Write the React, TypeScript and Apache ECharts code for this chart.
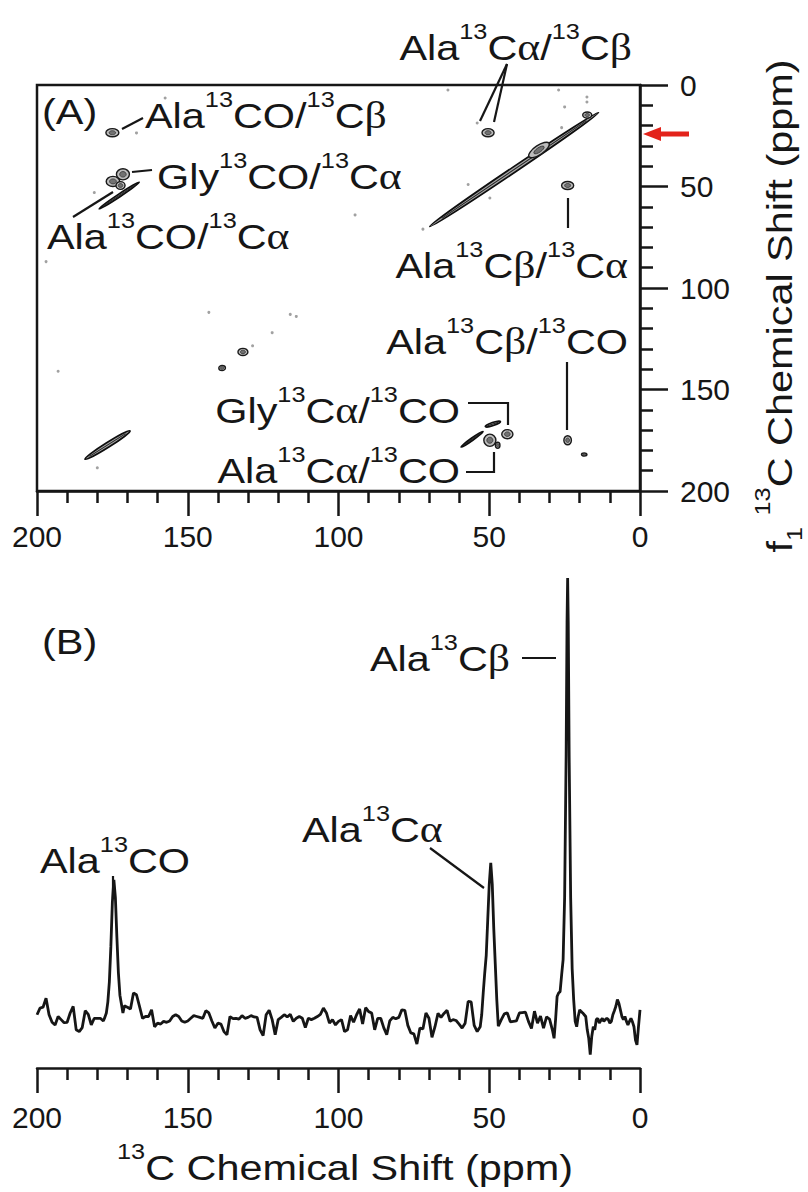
import React, { useEffect, useRef } from "react";
import * as echarts from "echarts";

// ---------- Panel (B): 1D 13C spectrum, [ppm] and [relative intensity] ----------
const spectrumPpm = [
  200, 199, 198, 197, 196, 195, 194, 193, 192, 191, 190, 189, 188, 187, 186, 185, 184, 183, 182, 181, 180, 179, 178,
  177.5, 177, 176.5, 176, 175.5, 175, 174.5, 174, 173.5, 173, 172.5, 172, 171.5,
  171, 170, 169, 168, 167, 166, 165, 164, 163, 162, 161, 160, 159, 158, 157, 156, 155, 154, 153, 152, 151, 150,
  149, 148, 147, 146, 145, 144, 143, 142, 141, 140, 139, 138, 137, 136, 135, 134, 133, 132, 131, 130,
  129, 128, 127, 126, 125, 124, 123, 122, 121, 120, 119, 118, 117, 116, 115, 114, 113, 112, 111, 110,
  109, 108, 107, 106, 105, 104, 103, 102, 101, 100, 99, 98, 97, 96, 95, 94, 93, 92, 91, 90,
  89, 88, 87, 86, 85, 84, 83, 82, 81, 80, 79, 78, 77, 76, 75, 74, 73, 72, 71, 70,
  69, 68, 67, 66, 65, 64, 63, 62, 61, 60, 59, 58, 57, 56, 55, 54, 53,
  52.5, 52, 51.5, 51, 50.5, 50, 49.5, 49, 48.5, 48, 47.5, 47,
  46, 45, 44, 43, 42, 41, 40, 39, 38, 37, 36, 35, 34, 33, 32, 31, 30, 29, 28.5, 28, 27.5, 27, 26.5, 26,
  25.5, 25, 24.5, 24.2, 24, 23.8, 23.5, 23, 22.5, 22, 21.5, 21, 20.5, 20, 19.5, 19, 18.5, 18, 17.5, 17, 16.5, 16,
  15.5, 15, 14.5, 14, 13.5, 13, 12.5, 12, 11.5, 11, 10.5, 10, 9.5, 9, 8.5, 8, 7.5, 7, 6.5, 6, 5.5, 5,
  4.5, 4, 3.5, 3, 2.5, 2, 1.5, 1, 0.5, 0,
];
const spectrumIntensity = [
  1.6, 3.1, 3.3, 5.3, 1.6, -0.1, -0.7, 1.2, 0.5, -0.2, -0.1, 2.0, 3.5, -1.8, -2.2, -1.3, 2.5, 1.7, -0.7, 0.8, 0.8, 0.8, 0.2,
  1.0, 2.0, 4.5, 9, 17, 27, 32, 28, 19, 11, 6, 4, 2,
  3.6, 3.3, 2.9, 6.5, 6.1, 3.5, 0.8, 1.2, 1.2, 2.7, -1.1, -0.3, -0.5, 0.1, -0.1, 0.2, 1.2, 1.6, 1.2, 0.2, -0.1, 0.2,
  0.8, 1.4, 1.2, 1.0, 0.8, 2.5, 2.0, 0.2, -1.4, -0.3, -0.5, -2.2, -2.9, 1.2, 0.7, 0.8, 0.6, 1.4, 0.8, 1.0,
  1.4, 1.1, 1.0, -1.8, -3.1, 1.6, 2.6, 0.5, -2.9, 0.5, 1.0, 1.6, 1.1, 1.7, 0.1, 0.8, 1.2, 0.8, -1.3, 0.8,
  0.5, 0.8, 1.2, 1.7, 3.1, 2.0, -0.3, 0.5, -0.7, 0.1, 0.5, -2.2, -1.8, 1.4, -0.1, 1.6, 2.9, -0.5, 3.2, 2.3,
  2.0, -1.8, 0.8, 0.8, -1.3, -2.9, 0.2, 1.0, 0.7, 1.0, 2.7, 2.6, -0.8, -2.5, -2.7, -5.0, -1.4, -1.6, 2.0, 0.8,
  -3.5, -1.1, 1.9, 1.0, 1.9, 2.6, 0.1, 0.5, 0.3, -0.5, -1.4, -0.3, 4.6, 4.5, -0.8, -2.2, -1.1,
  1.6, 6.5, 11, 15, 23, 31, 35.8, 31, 21, 13, 5, -1.0,
  0.5, 1.8, 2.0, 0.0, 0.1, 0.2, 2.0, 2.1, 2.2, 0.1, -1.5, 2.4, -0.3, 1.3, -1.4, 1.1, 0.6, -2.0, -3.7, 0.5, 5.7, 6.5, 6.8, 10.5,
  14, 28, 60, 90, 100, 90, 60, 28, 12, 5.0, 0.1, -1.1, 1.2, 2.7, 2.3, 2.0, 1.6, 1.2, -1.8, -3.7, -7.4, -3.3,
  -1.1, -1.8, 0.5, 0.8, -0.3, 0.3, 0.8, 0.1, 0.5, 0.8, 0.5, -0.3, 0.1, 1.6, 2.5, 3.5, 5.0, 4.2, 2.7, 1.2, 0.5, 1.2,
  0.1, -0.7, 0.1, 0.8, 0.0, -1.1, -4.1, -5.2, -1.1, 2.7,
];

// ---------- Panel (A): 2D 13C-13C correlation map (f2 ppm, f1 ppm) ----------
// ridges: [f2 start, f1 start, f2 end, f1 end, ridge width (ppm)]
const diagonalRidges = [
  [69, 69, 14.5, 14.3, 2.6],
  [183.4, 183.7, 169.8, 171, 2.4],
  [179, 60.6, 166.5, 48.3, 1.4],
  [59, 178, 52.4, 171, 1.2],
  [50.8, 168, 46.8, 166, 1.6],
];
// cross peaks: [f2, f1, width (ppm), height (ppm), tilt (deg)]
const crossPeaks = [
  [175, 23.5, 4.3, 4.0, 0],
  [171.5, 44, 4.3, 5.5, 0],
  [174.8, 47.5, 4.5, 5.0, 0],
  [172.3, 49.5, 3.0, 3.8, 0],
  [50.4, 23.5, 4.0, 4.0, 0],
  [24, 49.5, 4.0, 4.0, 0],
  [33.5, 32, 8, 4.5, 34],
  [17.5, 14.8, 3, 3, 0],
  [24, 175, 2.5, 4.5, 0],
  [44, 172, 3.7, 4.5, 0],
  [49.8, 175, 4, 6, 0],
  [47.2, 177.5, 1.5, 3, 0],
  [131.7, 131.5, 3.3, 3.5, 0],
  [138.6, 139.4, 2.2, 2.5, 0],
  [18.5, 182, 1.8, 1.5, 0],
];
// weak isolated spots: [f2, f1]
const weakSpots = [
  [157.5, 6.4], [167, 23.6], [181, 53], [94.5, 64], [197, 87], [63.7, 2.5], [27, 2.5], [17.6, 5.9],
  [17.6, 8.4], [25, 10.8], [26, 21], [57, 49], [49.8, 55.7], [72, 71], [54, 18.7], [143, 112],
  [114, 114], [122, 122], [193, 141], [180, 188.6], [116, 113], [128.5, 128.5],
];

const FONT = "'Liberation Sans', Arial, Helvetica, sans-serif";
const GREEK_FONT = "'Liberation Serif', 'Times New Roman', serif";
const INK = "#161616";

const F = 36;
const SF = 22;
const LH = 54;
const CAP = LH / 2 - 0.37 * F;
const STRETCH = 1.15;

const rich: any = {
  m: { fontSize: F, fontFamily: FONT, lineHeight: LH, fill: INK, color: INK },
  s: { fontSize: SF, fontFamily: FONT, lineHeight: SF, verticalAlign: "top", fill: INK, color: INK },
  b: { fontSize: SF, fontFamily: FONT, lineHeight: SF, verticalAlign: "bottom", fill: INK, color: INK },
  g: { fontSize: F + 2, fontFamily: GREEK_FONT, lineHeight: LH, fill: INK, color: INK },
};

const M = (s: string) => `{m|${s}}`;
const S = (s: string) => `{s|${s}}`;
const G = (s: string) => `{g|${s}}`;

function label(text: string, x: number, capTop: number, align = "left", extra: any = {}) {
  return {
    type: "text",
    x,
    y: capTop - CAP,
    scaleX: STRETCH,
    silent: true,
    z: 100,
    style: { text, rich, align, verticalAlign: "top", fill: INK, fontSize: F, fontFamily: FONT, lineHeight: LH },
    ...extra,
  };
}
function seg(x1: number, y1: number, x2: number, y2: number) {
  return { type: "line", silent: true, z: 100, shape: { x1, y1, x2, y2 }, style: { stroke: INK, lineWidth: 2.2 } };
}
function poly(points: number[][]) {
  return { type: "polyline", silent: true, z: 100, shape: { points }, style: { stroke: INK, lineWidth: 2.2, fill: null } };
}

const axisLineStyle = { color: INK, width: 2.5 };
function shiftAxis(gridIndex: number, margin: number) {
  return {
    type: "value",
    gridIndex,
    min: 0,
    max: 200,
    interval: 50,
    inverse: true,
    position: "bottom",
    axisLine: { show: true, onZero: false, lineStyle: axisLineStyle },
    axisTick: { show: true, inside: false, length: 25, lineStyle: axisLineStyle },
    minorTick: { show: true, splitNumber: 5, length: 12, lineStyle: axisLineStyle },
    axisLabel: { show: true, margin, fontSize: 30, fontFamily: FONT, color: INK },
    splitLine: { show: false },
    minorSplitLine: { show: false },
  };
}

function renderRidge(_params: any, api: any) {
  const p1 = api.coord([api.value(0), api.value(1)]);
  const p2 = api.coord([api.value(2), api.value(3)]);
  const th = api.size([api.value(4), api.value(4)]);
  const t = Math.min(th[0], th[1]);
  const len = Math.hypot(p2[0] - p1[0], p2[1] - p1[1]);
  const rot = Math.atan2(-(p2[1] - p1[1]), p2[0] - p1[0]);
  return {
    type: "group",
    x: (p1[0] + p2[0]) / 2,
    y: (p1[1] + p2[1]) / 2,
    rotation: rot,
    children: [
      { type: "ellipse", shape: { cx: 0, cy: 0, rx: len / 2 + t / 2, ry: t / 2 }, style: { fill: "#a8a8a8", stroke: "#0e0e0e", lineWidth: 1.7 } },
      { type: "line", shape: { x1: -len * 0.44, y1: 0, x2: len * 0.44, y2: 0 }, style: { stroke: "#222", lineWidth: 1 } },
    ],
  };
}
function renderPeak(_params: any, api: any) {
  const c = api.coord([api.value(0), api.value(1)]);
  const s = api.size([api.value(2), api.value(3)]);
  const rot = (api.value(4) * Math.PI) / 180;
  return {
    type: "group",
    x: c[0],
    y: c[1],
    rotation: rot,
    children: [
      { type: "ellipse", shape: { cx: 0, cy: 0, rx: s[0] / 2, ry: s[1] / 2 }, style: { fill: "#bdbdbd", stroke: "#1a1a1a", lineWidth: 1.4 } },
      { type: "ellipse", shape: { cx: 0, cy: 0, rx: s[0] / 4, ry: s[1] / 4 }, style: { fill: "#727272", stroke: "#333", lineWidth: 0.8 } },
    ],
  };
}

const option: any = {
  animation: false,
  backgroundColor: "#ffffff",
  grid: [
    { left: 37, top: 85, width: 603, height: 406, show: true, borderColor: INK, borderWidth: 2.5, backgroundColor: "transparent", containLabel: false, outerBoundsMode: "none" },
    { left: 37, top: 578, width: 603, height: 490, show: false, containLabel: false, outerBoundsMode: "none" },
  ],
  xAxis: [shiftAxis(0, 30), shiftAxis(1, 34)],
  yAxis: [
    {
      type: "value",
      gridIndex: 0,
      min: 0,
      max: 200,
      interval: 50,
      inverse: true,
      position: "right",
      axisLine: { show: true, onZero: false, lineStyle: axisLineStyle },
      axisTick: { show: true, inside: false, length: 28, lineStyle: axisLineStyle },
      minorTick: { show: true, splitNumber: 5, length: 13, lineStyle: axisLineStyle },
      axisLabel: { show: true, margin: 40, fontSize: 30, fontFamily: FONT, color: INK },
      splitLine: { show: false },
      minorSplitLine: { show: false },
    },
    { type: "value", gridIndex: 1, min: -10.4, max: 100, show: false, splitLine: { show: false } },
  ],
  series: [
    {
      type: "custom",
      name: "diagonal ridges",
      xAxisIndex: 0,
      yAxisIndex: 0,
      renderItem: renderRidge,
      data: diagonalRidges,
      silent: true,
    },
    {
      type: "custom",
      name: "cross peaks",
      xAxisIndex: 0,
      yAxisIndex: 0,
      renderItem: renderPeak,
      data: crossPeaks,
      silent: true,
    },
    {
      type: "scatter",
      name: "weak spots",
      xAxisIndex: 0,
      yAxisIndex: 0,
      symbol: "circle",
      symbolSize: 3,
      itemStyle: { color: "#8a8a8a" },
      data: weakSpots,
      silent: true,
    },
    {
      type: "line",
      name: "13C spectrum",
      xAxisIndex: 1,
      yAxisIndex: 1,
      showSymbol: false,
      symbol: "none",
      clip: false,
      lineStyle: { color: INK, width: 2.8 },
      data: spectrumPpm.map((p, i) => [p, spectrumIntensity[i]]),
      silent: true,
    },
  ],
  graphic: {
    elements: [
      // Panel A labels
      label(M("(A)"), 42, 98),
      label(M("Ala") + S("13") + M("CO/") + S("13") + M("C") + G("β"), 145, 102),
      label(M("Gly") + S("13") + M("CO/") + S("13") + M("C") + G("α"), 157, 163),
      label(M("Ala") + S("13") + M("CO/") + S("13") + M("C") + G("α"), 47, 223),
      label(M("Ala") + S("13") + M("C") + G("α") + M("/") + S("13") + M("C") + G("β"), 632, 34, "right"),
      label(M("Ala") + S("13") + M("C") + G("β") + M("/") + S("13") + M("C") + G("α"), 628, 252, "right"),
      label(M("Ala") + S("13") + M("C") + G("β") + M("/") + S("13") + M("CO"), 628, 328, "right"),
      label(M("Gly") + S("13") + M("C") + G("α") + M("/") + S("13") + M("CO"), 460, 397, "right"),
      label(M("Ala") + S("13") + M("C") + G("α") + M("/") + S("13") + M("CO"), 460, 457, "right"),
      seg(122, 129, 143, 118),
      seg(132, 172, 152, 170),
      seg(73, 217, 113, 192),
      seg(507, 64, 480, 121),
      seg(507, 64, 494, 122),
      seg(568, 198, 568, 228),
      seg(567, 362, 567, 430),
      poly([[468, 403], [508, 403], [508, 425]]),
      poly([[466, 472], [494, 472], [494, 452]]),
      {
        type: "polygon",
        silent: true,
        z: 100,
        shape: { points: [[643, 134], [661, 127], [661, 131.5], [689, 131.5], [689, 136.5], [661, 136.5], [661, 141]] },
        style: { fill: "#e3231b" },
      },
      // Panel A f1 axis title
      {
        type: "text",
        x: 752,
        y: 306,
        rotation: Math.PI / 2,
        scaleX: STRETCH,
        silent: true,
        z: 100,
        style: {
          text: M("f") + "{b|1}" + M(" ") + S("13") + M("C Chemical Shift (ppm)"),
          rich,
          align: "center",
          verticalAlign: "top",
          fill: INK,
          fontSize: F,
          fontFamily: FONT,
          lineHeight: LH,
        },
      },
      // Panel B labels
      label(M("(B)"), 42, 628),
      label(M("Ala") + S("13") + M("C") + G("β"), 510, 645, "right"),
      seg(522, 658, 556, 658),
      label(M("Ala") + S("13") + M("C") + G("α"), 302, 816),
      seg(430, 848, 484, 888),
      label(M("Ala") + S("13") + M("CO"), 40, 847),
      seg(113, 876, 113, 898),
      // Panel B axis title
      label(S("13") + M("C Chemical Shift (ppm)"), 345, 1154, "center"),
    ],
  },
};

export default function App() {
  const ref = useRef<HTMLDivElement>(null);
  useEffect(() => {
    if (!ref.current) return;
    const chart = echarts.init(ref.current, null, { renderer: "svg" });
    chart.setOption(option);
    return () => chart.dispose();
  }, []);
  return (
    <div
      ref={ref}
      style={{ position: "absolute", left: 0, top: 0, width: 808, height: 1192, background: "#ffffff" }}
    />
  );
}
